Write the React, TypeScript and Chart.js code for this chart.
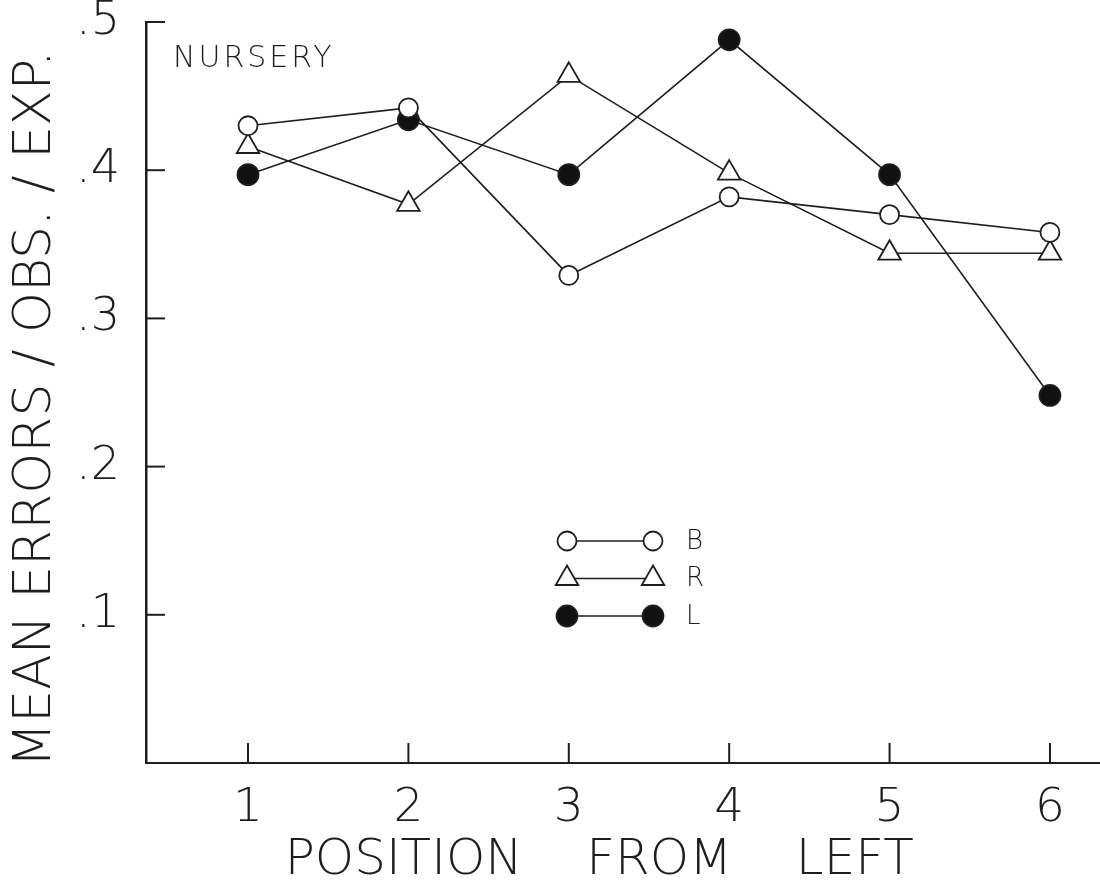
import React, { useEffect, useRef } from 'react';
import { Chart, registerables } from 'chart.js';

Chart.register(...registerables);

// ---- data ----
const positions = [1, 2, 3, 4, 5, 6];
const seriesB = [0.43, 0.442, 0.329, 0.382, 0.37, 0.358];
const seriesR = [0.416, 0.377, 0.464, 0.398, 0.344, 0.344];
const seriesL = [0.397, 0.434, 0.397, 0.488, 0.397, 0.248];
const seriesNames = ['B', 'R', 'L'];
const yTickValues = [0.1, 0.2, 0.3, 0.4, 0.5];
const xTickValues = [1, 2, 3, 4, 5, 6];
const yTitle = 'MEAN ERRORS / OBS. / EXP.  ';
const xTitle = 'POSITION    FROM    LEFT   ';
const panelLabel = 'NURSERY';

const INK = '#1e1e1e';
const FONT = "'DejaVu Sans', sans-serif";
const X_MIN = 0.364;
const X_MAX = 6.312;

function drawMarker(ctx: CanvasRenderingContext2D, style: string, r: number, x: number, y: number, fill: string) {
  ctx.beginPath();
  if (style === 'triangle') {
    let rad = 0;
    ctx.moveTo(x + Math.sin(rad) * r, y - Math.cos(rad) * r);
    rad += (2 * Math.PI) / 3;
    ctx.lineTo(x + Math.sin(rad) * r, y - Math.cos(rad) * r);
    rad += (2 * Math.PI) / 3;
    ctx.lineTo(x + Math.sin(rad) * r, y - Math.cos(rad) * r);
    ctx.closePath();
  } else {
    ctx.arc(x, y, r, 0, Math.PI * 2);
  }
  ctx.fillStyle = fill;
  ctx.fill();
  ctx.strokeStyle = INK;
  ctx.lineWidth = 1.8;
  ctx.stroke();
}

const decorPlugin = {
  id: 'decor',
  afterDraw(chart: any) {
    const { ctx, chartArea, scales } = chart;
    ctx.save();
    // inner ticks
    ctx.strokeStyle = INK;
    ctx.lineWidth = 2;
    yTickValues.forEach((v) => {
      const py = scales.y.getPixelForValue(v);
      ctx.beginPath();
      ctx.moveTo(chartArea.left, py);
      ctx.lineTo(chartArea.left + 19, py);
      ctx.stroke();
    });
    xTickValues.forEach((v) => {
      const px = scales.x.getPixelForValue(v);
      ctx.beginPath();
      ctx.moveTo(px, chartArea.bottom);
      ctx.lineTo(px, chartArea.bottom - 20);
      ctx.stroke();
    });
    // panel label
    ctx.fillStyle = INK;
    ctx.font = `300 30px ${FONT}`;
    (ctx as any).letterSpacing = '3px';
    ctx.textAlign = 'left';
    ctx.textBaseline = 'middle';
    ctx.fillText(panelLabel, 173, 59);
    (ctx as any).letterSpacing = '0px';
    // legend
    const x1 = 567;
    const x2 = 653;
    const top = 541;
    const gap = 37.5;
    chart.data.datasets.forEach((ds: any, i: number) => {
      const y = top + i * gap;
      ctx.beginPath();
      ctx.moveTo(x1, y);
      ctx.lineTo(x2, y);
      ctx.strokeStyle = INK;
      ctx.lineWidth = 1.6;
      ctx.stroke();
      drawMarker(ctx, ds.pointStyle, ds.pointRadius, x1, y, ds.pointBackgroundColor);
      drawMarker(ctx, ds.pointStyle, ds.pointRadius, x2, y, ds.pointBackgroundColor);
      ctx.fillStyle = INK;
      ctx.font = `300 26px ${FONT}`;
      ctx.textAlign = 'left';
      ctx.textBaseline = 'middle';
      ctx.fillText(ds.label, 686, y + 1);
    });
    ctx.restore();
  },
};

export default function App() {
  const ref = useRef<HTMLCanvasElement | null>(null);

  useEffect(() => {
    if (!ref.current) return;
    const mk = (vals: number[]) => positions.map((x, i) => ({ x, y: vals[i] }));
    const common = {
      borderColor: INK,
      borderWidth: 1.6,
      pointBorderColor: INK,
      pointBorderWidth: 1.8,
      tension: 0,
      fill: false,
    };
    const chart = new Chart(ref.current, {
      type: 'line',
      data: {
        datasets: [
          { ...common, label: seriesNames[0], data: mk(seriesB), pointStyle: 'circle', pointRadius: 9.5, pointBackgroundColor: '#ffffff' },
          { ...common, label: seriesNames[1], data: mk(seriesR), pointStyle: 'triangle', pointRadius: 13, pointBackgroundColor: '#ffffff' },
          { ...common, label: seriesNames[2], data: mk(seriesL), pointStyle: 'circle', pointRadius: 10.5, pointBackgroundColor: '#111111' },
        ] as any,
      },
      options: {
        responsive: false,
        animation: false,
        devicePixelRatio: 1,
        layout: { autoPadding: false, padding: { top: 22, left: 0, right: 0, bottom: 0 } },
        plugins: {
          legend: { display: false },
          tooltip: { enabled: false },
          title: { display: false },
        },
        scales: {
          x: {
            type: 'linear',
            min: X_MIN,
            max: X_MAX,
            afterBuildTicks: (s: any) => {
              s.ticks = xTickValues.map((v) => ({ value: v }));
            },
            afterFit: (s: any) => {
              s.height = 123;
              s.paddingLeft = 0;
              s.paddingRight = 0;
            },
            grid: { display: false, drawTicks: false },
            border: { display: true, color: INK, width: 2 },
            ticks: {
              padding: 22,
              color: INK,
              autoSkip: false,
              maxRotation: 0,
              font: { family: FONT, size: 47, weight: '300', lineHeight: 1 },
              callback: (v: any) => String(v),
            },
            title: {
              display: true,
              text: xTitle,
              color: INK,
              font: { family: FONT, size: 50, weight: '300', lineHeight: 1 },
              padding: { top: 0, bottom: 0 },
            },
          },
          y: {
            min: 0,
            max: 0.5,
            afterBuildTicks: (s: any) => {
              s.ticks = yTickValues.map((v) => ({ value: v }));
            },
            afterFit: (s: any) => {
              s.width = 146;
              s.paddingTop = 0;
              s.paddingBottom = 0;
            },
            grid: { display: false, drawTicks: false },
            border: { display: true, color: INK, width: 2.5 },
            ticks: {
              padding: 26,
              color: INK,
              autoSkip: false,
              font: { family: FONT, size: 46, weight: '300', lineHeight: 1 },
              callback: (v: any) => '.' + Math.round(Number(v) * 10),
            },
            title: {
              display: true,
              text: yTitle,
              color: INK,
              font: { family: FONT, size: 52, weight: '300', lineHeight: 1 },
              padding: { top: 10, bottom: 0 },
            },
          },
        },
      } as any,
      plugins: [decorPlugin],
    });
    return () => chart.destroy();
  }, []);

  return (
    <div style={{ position: 'absolute', left: 0, top: 0, width: 1100, height: 886, background: '#fff' }}>
      <canvas ref={ref} width={1100} height={886} style={{ display: 'block' }} />
    </div>
  );
}
